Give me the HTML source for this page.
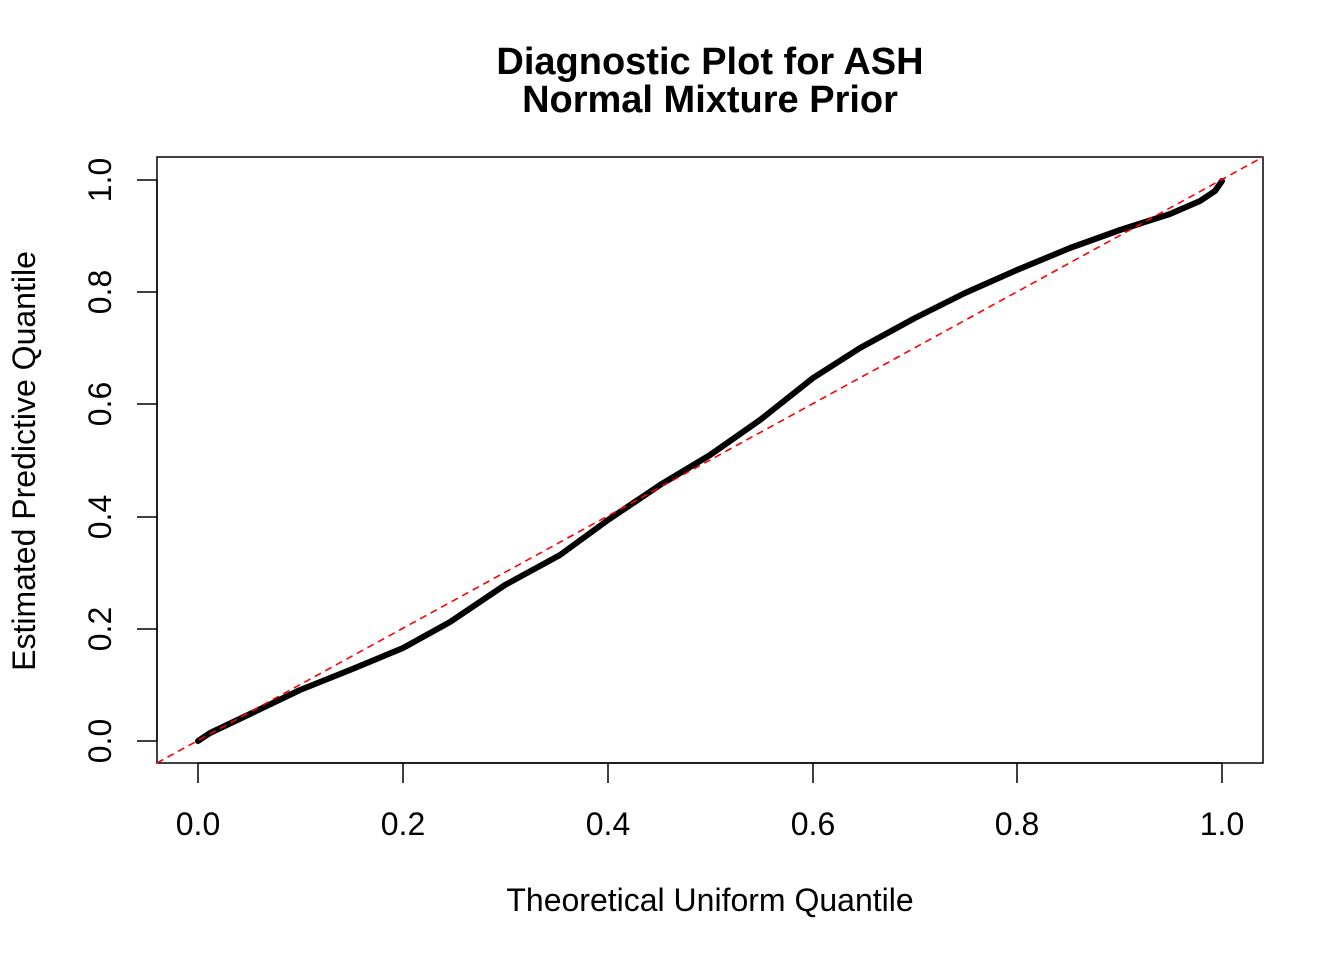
<!DOCTYPE html>
<html><head><meta charset="utf-8"><style>
html,body{margin:0;padding:0;background:#fff;}
svg{display:block;}
text{font-family:"Liberation Sans",Arial,sans-serif;fill:#000;}
</style></head><body>
<svg width="1344" height="960" viewBox="0 0 1344 960">
<text x="710" y="74" font-size="38" font-weight="bold" text-anchor="middle">Diagnostic Plot for ASH</text>
<text x="710" y="112" font-size="38" font-weight="bold" text-anchor="middle">Normal Mixture Prior</text>
<rect x="157" y="157" width="1106" height="606" fill="none" stroke="#000" stroke-width="1.5"/>
<g stroke="#000" stroke-width="1.5">
<line x1="198" y1="763" x2="1222" y2="763"/>
<line x1="198" y1="763" x2="198" y2="783"/><line x1="403" y1="763" x2="403" y2="783"/><line x1="608" y1="763" x2="608" y2="783"/><line x1="813" y1="763" x2="813" y2="783"/><line x1="1017" y1="763" x2="1017" y2="783"/><line x1="1222" y1="763" x2="1222" y2="783"/>
<line x1="157" y1="741" x2="157" y2="180"/>
<line x1="137" y1="741" x2="157" y2="741"/><line x1="137" y1="629" x2="157" y2="629"/><line x1="137" y1="517" x2="157" y2="517"/><line x1="137" y1="404" x2="157" y2="404"/><line x1="137" y1="292" x2="157" y2="292"/><line x1="137" y1="180" x2="157" y2="180"/>
</g>
<g font-size="32" text-anchor="middle">
<text x="198" y="835">0.0</text><text x="403" y="835">0.2</text><text x="608" y="835">0.4</text><text x="813" y="835">0.6</text><text x="1017" y="835">0.8</text><text x="1222" y="835">1.0</text>
<text transform="translate(111,741) rotate(-90)">0.0</text>
<text transform="translate(111,629) rotate(-90)">0.2</text>
<text transform="translate(111,517) rotate(-90)">0.4</text>
<text transform="translate(111,404) rotate(-90)">0.6</text>
<text transform="translate(111,292) rotate(-90)">0.8</text>
<text transform="translate(111,180) rotate(-90)">1.0</text>
<text x="710" y="911">Theoretical Uniform Quantile</text>
<text transform="translate(35,461) rotate(-90)">Estimated Predictive Quantile</text>
</g>
<polyline fill="none" stroke="#000" stroke-width="6" stroke-linejoin="round" stroke-linecap="round"
points="198,741 210,733 250,714 300,690 350,670 403,648 450,622 505,585 560,555 608,520 660,485 710,455 760,420 813,378 860,348 915,318 965,293 1017,270 1070,248 1120,230 1170,214 1200,201 1215,191 1222,181"/>
<line x1="157" y1="763" x2="1263" y2="157" stroke="#ff0000" stroke-width="1.6" stroke-dasharray="7,5"/>
</svg>
</body></html>
